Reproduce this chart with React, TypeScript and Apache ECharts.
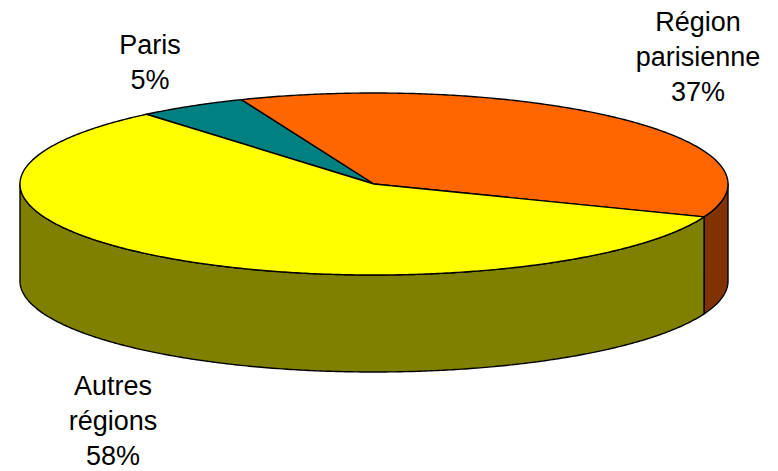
import React, { useEffect, useRef } from "react";
import * as echarts from "echarts";

// ---- data ----
const categories = ["Paris", "Région parisienne", "Autres régions"];
const labelNames = ["Paris", "Région\nparisienne", "Autres\nrégions"];
const values = [5, 37, 58];
const percentLabels = ["5%", "37%", "58%"];

// ---- styles / layout ----
const topColors = ["#008080", "#FF6600", "#FFFF00"];
const sideColors = ["#004040", "#803300", "#808000"];
const CX = 374;
const CY = 184;
const RX = 354;
const RY = 91;
const DEPTH = 97;
const START_ANGLE = 230; // parametric angle, clockwise on screen
const labelAnchors = [
  [150, 62],
  [698, 57],
  [113, 421],
];

const total = values.reduce((a, b) => a + b, 0);

function pt(deg: number, dy: number): number[] {
  const r = (deg * Math.PI) / 180;
  return [CX + RX * Math.cos(r), CY + RY * Math.sin(r) + dy];
}
function arc(from: number, to: number, dy: number): number[][] {
  const pts: number[][] = [];
  const n = Math.max(2, Math.ceil(Math.abs(to - from) / 0.5));
  for (let j = 0; j <= n; j++) pts.push(pt(from + ((to - from) * j) / n, dy));
  return pts;
}

function renderItem(params: any, api: any) {
  const i = params.dataIndex;
  const v = api.value(0);
  let before = 0;
  for (let k = 0; k < i; k++) before += values[k];
  const a0 = START_ANGLE + (before / total) * 360;
  const a1 = a0 + (v / total) * 360;
  const children: any[] = [];
  // visible front side (parametric angle in [0,180] mod 360)
  for (let k = -1; k <= 2; k++) {
    const lo = Math.max(a0, 360 * k);
    const hi = Math.min(a1, 360 * k + 180);
    if (hi > lo) {
      const top = arc(lo, hi, 0);
      const bot = arc(hi, lo, DEPTH);
      children.push({
        type: "polygon",
        shape: { points: top.concat(bot) },
        style: { fill: sideColors[i], stroke: "#000", lineWidth: 1.4, lineJoin: "round" },
      });
    }
  }
  const topPts = [[CX, CY]].concat(arc(a0, a1, 0));
  children.push({
    type: "polygon",
    shape: { points: topPts },
    style: { fill: topColors[i], stroke: "#000", lineWidth: 1.4, lineJoin: "round" },
  });
  children.push({
    type: "text",
    x: labelAnchors[i][0],
    y: labelAnchors[i][1],
    style: {
      text: labelNames[i] + "\n" + percentLabels[i],
      fontSize: 27,
      fontFamily: "Liberation Sans, Arial, sans-serif",
      fill: "#000",
      align: "center",
      verticalAlign: "middle",
      lineHeight: 35,
    },
  });
  return { type: "group", children };
}

export default function App() {
  const ref = useRef<HTMLDivElement>(null);
  useEffect(() => {
    if (!ref.current) return;
    const chart = echarts.init(ref.current, null, { renderer: "svg" });
    chart.setOption({
      animation: false,
      backgroundColor: "#ffffff",
      series: [
        {
          type: "custom",
          coordinateSystem: "none",
          silent: true,
          renderItem,
          data: values.map((v, i) => ({ name: categories[i], value: [v] })),
        },
      ],
    });
    return () => chart.dispose();
  }, []);
  return (
    <div
      ref={ref}
      style={{ position: "absolute", left: 0, top: 0, width: 778, height: 471 }}
    />
  );
}
